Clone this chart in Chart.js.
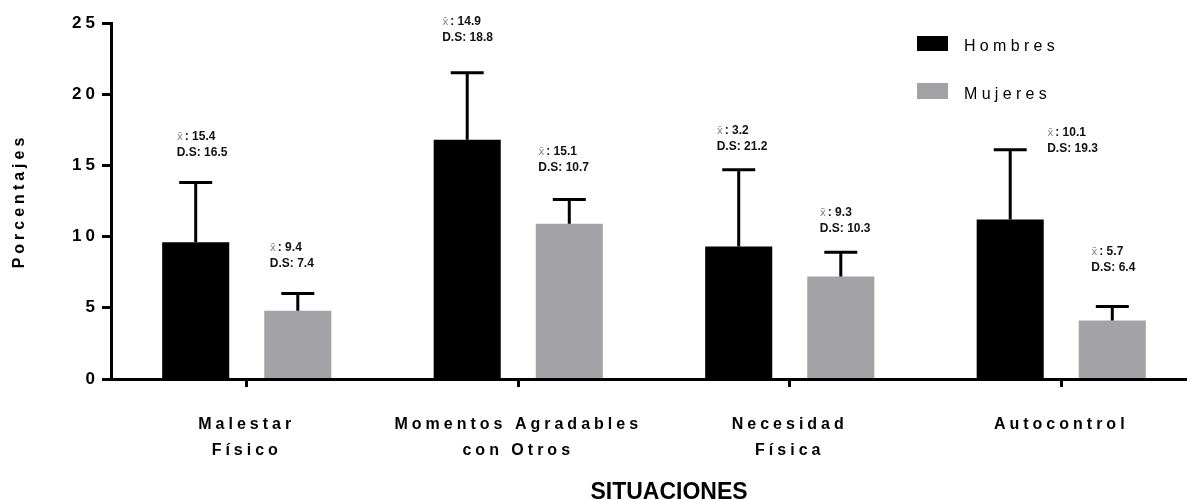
<!DOCTYPE html>
<html lang="es">
<head>
<meta charset="utf-8">
<title>Situaciones por sexo</title>
<script src="https://cdn.jsdelivr.net/npm/chart.js@4.4.1/dist/chart.umd.min.js"></script>
<style>
  html, body { margin: 0; padding: 0; background: #fff; overflow: hidden; }
  #wrap { position: relative; width: 1197px; height: 500px; }
</style>
</head>
<body>
<div id="wrap"><canvas id="grafico"></canvas></div>
<script>
// Porcentaje por situación y sexo, con su barra de error
const situaciones = [['Malestar', 'Físico'], ['Momentos Agradables', 'con Otros'], ['Necesidad', 'Física'], ['Autocontrol']];
const hombres = [9.6, 16.8, 9.3, 11.2];
const hombresError = [4.2, 4.7, 5.4, 4.9];
const mujeres = [4.8, 10.9, 7.2, 4.1];
const mujeresError = [1.2, 1.7, 1.7, 1.0];

// Media y desviación estándar anotadas sobre cada barra
const hombresMedia = ['15.4', '14.9', '3.2', '10.1'];
const hombresDS = ['16.5', '18.8', '21.2', '19.3'];
const mujeresMedia = ['9.4', '15.1', '9.3', '5.7'];
const mujeresDS = ['7.4', '10.7', '10.3', '6.4'];

const yTicks = [0, 5, 10, 15, 20, 25];

// Colocación de las notas: [desplazamiento x desde el centro de la barra, desplazamiento y desde el extremo del error]
const notaPos = [
  [[-19, -30], [-25, -36], [-22, -24], [37, -2]],
  [[-28, -31], [-31, -33], [-21, -24], [-21, -39]]
];

const FAMILIA = "'Liberation Sans', Arial, Helvetica, sans-serif";
const GRIS = '#a3a2a7';

Chart.defaults.font.family = FAMILIA;
Chart.defaults.color = '#000';

// Espaciado de letras para los textos de ejes
const espaciado = {
  id: 'espaciado',
  beforeDraw(chart) { chart.ctx.letterSpacing = '4px'; },
  afterDraw(chart) { chart.ctx.letterSpacing = '0px'; }
};

// Barras de error (sólo hacia arriba) con remate horizontal
const barrasError = {
  id: 'barrasError',
  afterDatasetsDraw(chart) {
    const ctx = chart.ctx;
    const y = chart.scales.y;
    ctx.save();
    ctx.strokeStyle = '#000';
    ctx.lineWidth = 3;
    ctx.lineCap = 'butt';
    chart.data.datasets.forEach((ds, d) => {
      const meta = chart.getDatasetMeta(d);
      meta.data.forEach((bar, i) => {
        const base = y.getPixelForValue(ds.data[i]);
        const top = y.getPixelForValue(ds.data[i] + ds.errores[i]);
        ctx.beginPath();
        ctx.moveTo(bar.x, base);
        ctx.lineTo(bar.x, top);
        ctx.moveTo(bar.x - 16.5, top);
        ctx.lineTo(bar.x + 16.5, top);
        ctx.stroke();
      });
    });
    ctx.restore();
  }
};

// Notas de media (x̄) y D.S, leyenda y título del eje x
const notas = {
  id: 'notas',
  afterDraw(chart) {
    const ctx = chart.ctx;
    const y = chart.scales.y;
    ctx.save();
    ctx.letterSpacing = '0px';
    ctx.textAlign = 'left';
    ctx.textBaseline = 'alphabetic';
    chart.data.datasets.forEach((ds, d) => {
      const meta = chart.getDatasetMeta(d);
      meta.data.forEach((bar, i) => {
        const top = y.getPixelForValue(ds.data[i] + ds.errores[i]);
        const [dx, dy] = notaPos[d][i];
        const left = bar.x + dx;
        const yDS = top + dy + 4;
        const yMed = yDS - 16;
        ctx.font = 'bold 12px ' + FAMILIA;
        ctx.fillStyle = '#111';
        ctx.fillText('D.S: ' + ds.ds[i], left, yDS);
        ctx.fillText(': ' + ds.medias[i], left + 8, yMed);
        ctx.font = '10.5px "DejaVu Sans", sans-serif';
        ctx.fillStyle = '#8a8a8a';
        ctx.fillText('x\u0304', left, yMed);
      });
    });

    // Leyenda
    ctx.letterSpacing = '4.3px';
    ctx.font = '16px ' + FAMILIA;
    const filas = [{ y: 36, h: 15, base: 51 }, { y: 83, h: 16, base: 99 }];
    chart.data.datasets.forEach((ds, d) => {
      const f = filas[d];
      ctx.fillStyle = ds.backgroundColor;
      ctx.fillRect(917, f.y, 31, f.h);
      ctx.fillStyle = '#000';
      ctx.fillText(ds.label, 964, f.base);
    });

    // Título del eje x
    ctx.letterSpacing = '0px';
    ctx.font = 'bold 23px ' + FAMILIA;
    ctx.textAlign = 'center';
    ctx.fillStyle = '#000';
    ctx.fillText('SITUACIONES', 669, 499);
    ctx.restore();
  }
};

new Chart(document.getElementById('grafico'), {
  type: 'bar',
  data: {
    labels: situaciones,
    datasets: [
      {
        label: 'Hombres',
        data: hombres,
        errores: hombresError,
        medias: hombresMedia,
        ds: hombresDS,
        backgroundColor: '#000',
        categoryPercentage: 0.752,
        barPercentage: 0.657
      },
      {
        label: 'Mujeres',
        data: mujeres,
        errores: mujeresError,
        medias: mujeresMedia,
        ds: mujeresDS,
        backgroundColor: GRIS,
        categoryPercentage: 0.752,
        barPercentage: 0.657
      }
    ]
  },
  options: {
    responsive: true,
    maintainAspectRatio: false,
    devicePixelRatio: 1,
    animation: false,
    layout: { padding: { top: 23, left: 0, right: 0, bottom: 0 } },
    plugins: {
      legend: { display: false },
      tooltip: { enabled: false }
    },
    scales: {
      x: {
        offset: true,
        afterFit: (s) => { s.height = 121; },
        border: { display: true, color: '#000', width: 3, z: 1 },
        grid: { offset: false, drawOnChartArea: false, drawTicks: true, tickLength: 8, tickWidth: 3, tickColor: '#000' },
        ticks: {
          color: '#000',
          autoSkip: false,
          maxRotation: 0,
          minRotation: 0,
          padding: 24,
          font: { size: 16, weight: 'bold', lineHeight: 1.65 }
        }
      },
      y: {
        min: 0,
        max: 25,
        afterBuildTicks: (s) => { s.ticks = yTicks.map(v => ({ value: v })); },
        afterFit: (s) => { s.width = 111; },
        border: { display: true, color: '#000', width: 3, z: 1 },
        grid: { drawOnChartArea: false, drawTicks: true, tickLength: 9, tickWidth: 3, tickColor: '#000' },
        ticks: {
          color: '#000',
          padding: 3,
          font: { size: 17, weight: 'bold' }
        },
        title: {
          display: true,
          text: 'Porcentajes',
          color: '#000',
          font: { size: 16, weight: 'bold' },
          padding: { top: 10, bottom: 0 }
        }
      }
    }
  },
  plugins: [espaciado, barrasError, notas]
});
</script>
</body>
</html>
